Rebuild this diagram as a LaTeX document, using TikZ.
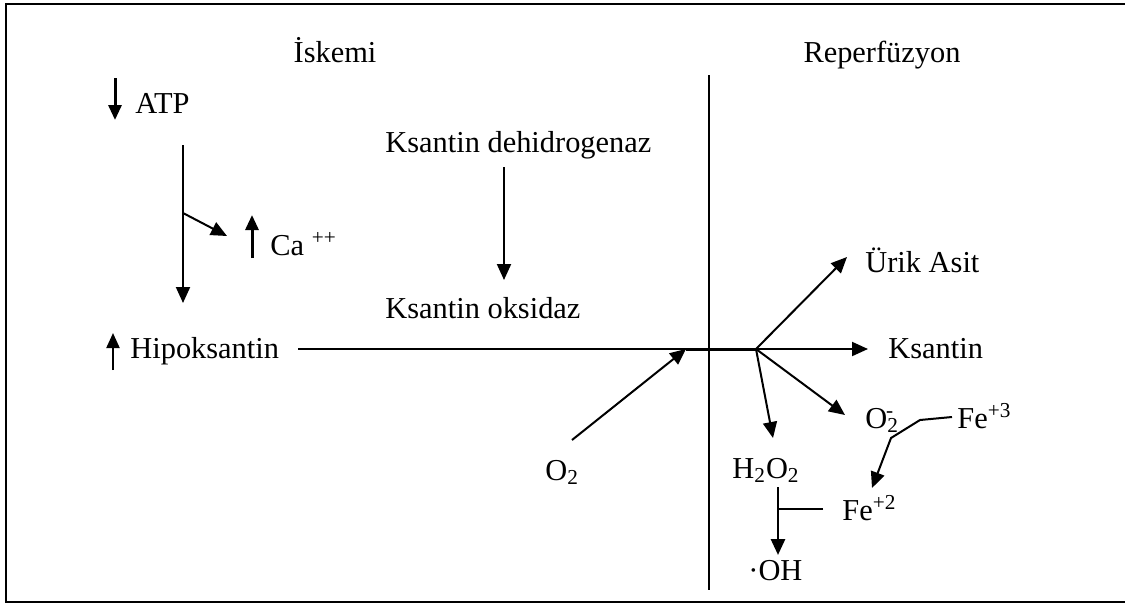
\documentclass[tikz,border=0pt]{standalone}
\usepackage{fontspec}
\setmainfont{Liberation Serif}
\usetikzlibrary{arrows.meta,calc}
\tikzset{
  lbl/.style={inner sep=0pt, anchor=base west, font=\fontsize{15.2}{18}\selectfont},
  conn/.style={line width=1pt, -{Triangle[length=8pt,width=7pt]}},
  plain/.style={line width=1pt},
  framestyle/.style={line width=1pt},
  updown/.style={line width=1.5pt, -{Triangle[length=7.5pt,width=6.5pt]}},
}
\begin{document}
\begin{tikzpicture}[x=0.5pt,y=-0.5pt]
\useasboundingbox (0,0) rectangle (1125,606);
% frame and divider
\draw[framestyle] (1125,4) -- (6,4) -- (6,602) -- (1125,602);
\coordinate (dv1) at (709,75);
\coordinate (dv2) at (709,590);
\draw[plain] (dv1) -- (dv2);
% labels
\node[lbl, anchor=base] (isk) at (335,62) {İskemi};
\node[lbl, anchor=base] (rep) at (882,62) {Reperfüzyon};
\node[lbl] (atp) at (135,113) {ATP};
\node[lbl] (ca) at (270,255) {Ca \textsuperscript{++}};
\node[lbl] (kdh) at (385,152) {Ksantin dehidrogenaz};
\node[lbl] (kox) at (385,318) {Ksantin oksidaz};
\node[lbl] (hip) at (130,358) {Hipoksantin};
\node[lbl] (uric) at (865,272) {Ürik Asit};
\node[lbl] (ks) at (888,358) {Ksantin};
\node[lbl] (o2a) at (545,480) {O\textsubscript{2}};
\node[lbl] (o2m) at (865,428) {O\textsubscript{2}\hspace{-0.42em}\textsuperscript{-}};
\node[lbl] (fe3) at (957,428) {Fe\textsuperscript{+3}};
\node[lbl] (h2o2) at (732,478) {H\textsubscript{2}O\textsubscript{2}};
\node[lbl] (fe2) at (842,520) {Fe\textsuperscript{+2}};
\node[lbl] (oh) at (748,580) {·OH};
% up / down symbols
\draw[updown] ($(atp.base west)+(-20,-35)$) -- ($(atp.base west)+(-20,7)$);
\draw[updown] ($(ca.base west)+(-18,3)$) -- ($(ca.base west)+(-18,-40)$);
\draw[updown, line width=1pt] ($(hip.base west)+(-17,12)$) -- ($(hip.base west)+(-17,-25)$);
% ischemia side
\coordinate (a1) at (183,145);
\coordinate (a2) at (183,303);
\coordinate (ab) at (183,213);
\coordinate (abt) at (227,236);
\draw[conn] (a1) -- (a2);
\draw[conn] (ab) -- (abt);
\coordinate (d1) at (504,167);
\coordinate (d2) at (504,280);
\draw[conn] (d1) -- (d2);
% main line
\coordinate (h0) at (298,349);
\coordinate (o2t) at (686,349);
\coordinate (br) at (756,349);
\coordinate (o2s) at (572,440);
\draw[plain] (h0) -- (br);
\draw[line width=1.5pt] (o2t) -- (br);
\draw[conn] (o2s) -- (o2t);
\coordinate (kst) at (868,349);
\coordinate (urt) at (847,257);
\coordinate (o2mt) at (845,415);
\coordinate (h2t) at (773,438);
\draw[conn] (br) -- (kst);
\draw[conn] (br) -- (urt);
\draw[conn] (br) -- (o2mt);
\draw[conn] (br) -- (h2t);
% iron reactions
\coordinate (f1) at (952,417);
\coordinate (f2) at (920,420);
\coordinate (f3) at (891,438);
\coordinate (f4) at (872,488);
\draw[conn] (f1) -- (f2) -- (f3) -- (f4);
\coordinate (hv1) at (778,487);
\coordinate (hv2) at (778,555);
\coordinate (hj) at (778,509);
\coordinate (fe2l) at (823,509);
\draw[conn, line width=1.4pt] (hv1) -- (hv2);
\draw[plain] (fe2l) -- (hj);
\end{tikzpicture}
\end{document}
